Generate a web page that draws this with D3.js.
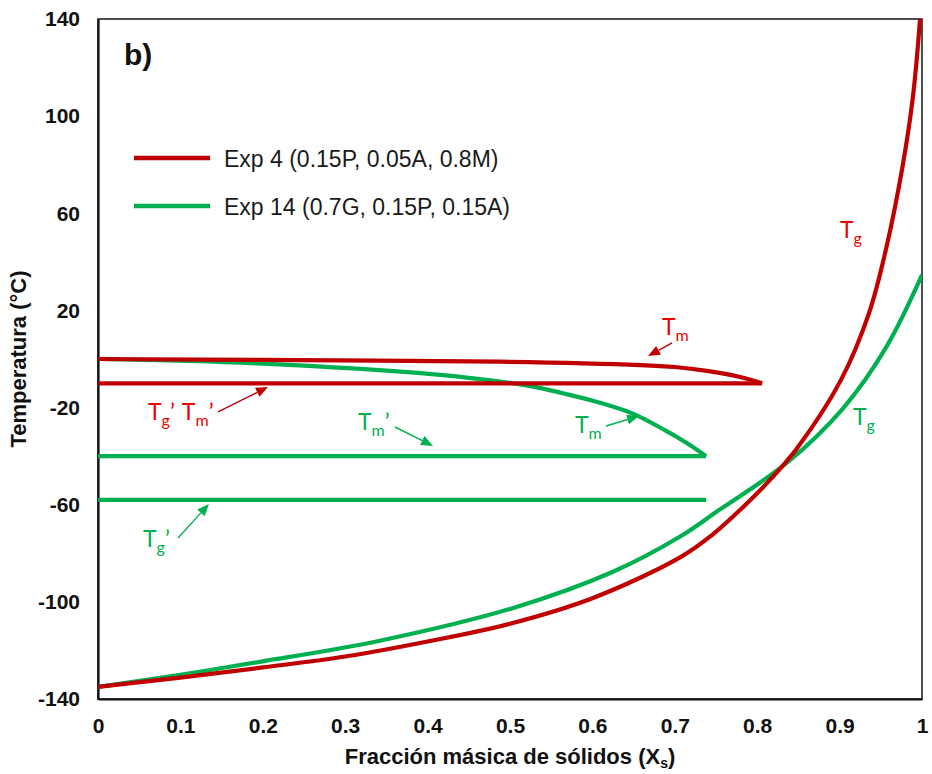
<!DOCTYPE html>
<html>
<head>
<meta charset="utf-8">
<script src="https://cdn.jsdelivr.net/npm/d3@7"></script>
<style>
  body { margin: 0; background: #fff; }
  svg { display: block; }
</style>
</head>
<body>
<div class="chart"></div>
<script>
var width = 932;
var height = 774;

// ------------------------------------------------
// data (x = mass fraction of solids, y = temperature in C)
var exp4_tg_x = [0, 0.1, 0.2, 0.3, 0.4, 0.5, 0.6, 0.7075, 0.7451, 0.7791, 0.8155, 0.8495, 0.9017, 0.9357, 0.9569, 0.9763, 0.9885, 0.9976];
var exp4_tg_y = [-135, -131.2, -127, -122.5, -116.3, -109, -98.5, -81.5, -72.5, -62.2, -49.8, -36.2, -8.6, 18.9, 46.1, 79.1, 106.6, 140];

var exp14_tg_x = [0, 0.1, 0.2, 0.342, 0.504, 0.625, 0.706, 0.7528, 0.8358, 0.9037, 0.957, 1.0];
var exp14_tg_y = [-135, -130, -124.5, -116, -102.5, -87.6, -73.2, -62.4, -42.8, -20.5, 5.1, 34.6];

var exp4_tm_x = [0, 0.2, 0.488, 0.658, 0.7, 0.739, 0.779, 0.806];
var exp4_tm_y = [0, -0.4, -1.1, -2.5, -3.3, -4.9, -7.4, -10];

var exp14_tm_x = [0, 0.193, 0.415, 0.488, 0.528, 0.569, 0.609, 0.649, 0.689, 0.714, 0.738];
var exp14_tm_y = [0, -1.8, -6.5, -9.3, -11.4, -14.5, -18, -22.5, -29.5, -34.5, -40];

// horizontal plateaus: [x start, x end, temperature]
var exp4_tgp_tmp = [0, 0.806, -10];   // Tg' = Tm'
var exp14_tmp = [0, 0.738, -40];      // Tm'
var exp14_tgp = [0, 0.738, -58];      // Tg'

var series_names = ["Exp 4 (0.15P, 0.05A, 0.8M)", "Exp 14 (0.7G, 0.15P, 0.15A)"];
var x_ticks = [0, 0.1, 0.2, 0.3, 0.4, 0.5, 0.6, 0.7, 0.8, 0.9, 1];
var x_tick_labels = ["0", "0.1", "0.2", "0.3", "0.4", "0.5", "0.6", "0.7", "0.8", "0.9", "1"];
var y_ticks = [140, 100, 60, 20, -20, -60, -100, -140];
var y_tick_labels = ["140", "100", "60", "20", "-20", "-60", "-100", "-140"];

var red = "#C00000";
var red_text = "#EE0000";
var green = "#00B050";

var font = "'Liberation Sans', Arial, sans-serif";
var label_font = "Lato, 'Open Sans', sans-serif";

var svg = d3.select(".chart").append("svg")
	.attr("width", width)
	.attr("height", height);

// ------------------------------------------------
// scales
var xScale = d3.scaleLinear()
	.domain([0, 1])
	.range([98, 922]);
var yScale = d3.scaleLinear()
	.domain([-140, 140])
	.range([699, 19]);

svg.append("clipPath").attr("id", "plot_clip")
	.append("rect")
	.attr("x", xScale(0)).attr("y", yScale(140))
	.attr("width", xScale(1) - xScale(0))
	.attr("height", yScale(-140) - yScale(140));

// frame
svg.append("rect")
	.attr("x", xScale(0)).attr("y", yScale(140))
	.attr("width", xScale(1) - xScale(0))
	.attr("height", yScale(-140) - yScale(140))
	.attr("fill", "none")
	.attr("stroke", "#222")
	.attr("stroke-width", 1.6);

// axes (no tick marks, only labels)
var xAxis = d3.axisBottom(xScale)
	.tickValues(x_ticks)
	.tickFormat(function (d, i) { return x_tick_labels[i]; })
	.tickSize(0)
	.tickPadding(19);
var gx = svg.append("g")
	.attr("transform", "translate(0," + yScale(-140) + ")")
	.call(xAxis);

var yAxis = d3.axisLeft(yScale)
	.tickValues(y_ticks)
	.tickFormat(function (d, i) { return y_tick_labels[i]; })
	.tickSize(0)
	.tickPadding(18);
var gy = svg.append("g")
	.attr("transform", "translate(" + xScale(0) + ",0)")
	.call(yAxis);

[gx, gy].forEach(function (g) {
	g.select(".domain").attr("stroke", "#111").attr("stroke-width", 2.2);
	g.selectAll("text")
		.attr("fill", "#111")
		.style("font-family", font)
		.style("font-weight", "bold")
		.style("font-size", "21px");
});

// axis titles
var xt = svg.append("text")
	.attr("x", 510).attr("y", 764)
	.attr("text-anchor", "middle")
	.style("font-family", font).style("font-weight", "bold").style("font-size", "22px")
	.attr("fill", "#111");
xt.append("tspan").text("Fracción másica de sólidos (X");
xt.append("tspan").attr("dy", 4).style("font-size", "14px").text("s");
xt.append("tspan").attr("dy", -4).text(")");

svg.append("text")
	.attr("transform", "translate(26,359) rotate(-90)")
	.attr("text-anchor", "middle")
	.style("font-family", font).style("font-weight", "bold").style("font-size", "22px")
	.attr("fill", "#111")
	.text("Temperatura (°C)");

// panel letter
svg.append("text")
	.attr("x", 124).attr("y", 65)
	.style("font-family", font).style("font-weight", "bold").style("font-size", "30px")
	.attr("fill", "#111")
	.text("b)");

// ------------------------------------------------
// curves
var plot = svg.append("g").attr("clip-path", "url(#plot_clip)");

function zip(xs, ys) {
	return xs.map(function (d, i) { return [d, ys[i]]; });
}
function plateau(p) {
	return [[p[0], p[2]], [p[1], p[2]]];
}

var line = d3.line()
	.x(function (d) { return xScale(d[0]); })
	.y(function (d) { return yScale(d[1]); })
	.curve(d3.curveCatmullRom.alpha(0.5));

var curves = [
	{ pts: zip(exp14_tg_x, exp14_tg_y), color: green },
	{ pts: plateau(exp14_tmp), color: green },
	{ pts: plateau(exp14_tgp), color: green },
	{ pts: zip(exp14_tm_x, exp14_tm_y), color: green },
	{ pts: zip(exp4_tg_x, exp4_tg_y), color: red },
	{ pts: plateau(exp4_tgp_tmp), color: red },
	{ pts: zip(exp4_tm_x, exp4_tm_y), color: red }
];

plot.selectAll("path.curve")
	.data(curves)
	.enter().append("path")
	.attr("class", "curve")
	.attr("d", function (d) { return line(d.pts); })
	.attr("fill", "none")
	.attr("stroke", function (d) { return d.color; })
	.attr("stroke-width", 4.2)
	.attr("stroke-linejoin", "round");

// ------------------------------------------------
// legend
var legend = svg.append("g");
[red, green].forEach(function (c, i) {
	var y = 158 + i * 48;
	legend.append("line")
		.attr("x1", 134).attr("x2", 210)
		.attr("y1", y).attr("y2", y)
		.attr("stroke", c).attr("stroke-width", 4.5);
	legend.append("text")
		.attr("x", 224).attr("y", y + 8.5)
		.style("font-family", font).style("font-size", "23px")
		.attr("fill", "#1a1a1a")
		.text(series_names[i]);
});

// ------------------------------------------------
// annotations: label position and arrow in data units
var annotations = [
	{ sub: "g", prime: false, at: [0.9005, 49.8], color: red_text },
	{ sub: "m", prime: false, at: [0.6845, 9.9], color: red_text, arrow: [[0.6966, 6.6], [0.6675, 1.2]], arrow_color: red },
	{ sub: "g", prime: true, sub2: "m", at: [0.0607, -25.1], color: red_text, arrow: [[0.1456, -21.8], [0.2063, -11.5]], arrow_color: red },
	{ sub: "m", prime: true, at: [0.3155, -29.2], color: green, arrow: [[0.3604, -28], [0.4066, -35.8]], arrow_color: green },
	{ sub: "m", prime: false, at: [0.5789, -30.5], color: green, arrow: [[0.6165, -27.6], [0.6566, -23.5]], arrow_color: green },
	{ sub: "g", prime: false, at: [0.9163, -27.2], color: green },
	{ sub: "g", prime: true, at: [0.0546, -77.4], color: green, arrow: [[0.0971, -73.7], [0.1347, -59.7]], arrow_color: green }
];

var ann = svg.append("g");
annotations.forEach(function (a) {
	var t = ann.append("text")
		.attr("x", xScale(a.at[0]))
		.attr("y", yScale(a.at[1]))
		.attr("fill", a.color)
		.style("font-family", label_font)
		.style("font-size", "23px");
	t.append("tspan").text("T");
	t.append("tspan").attr("dy", 6).style("font-size", "16px").text(a.sub);
	if (a.prime) t.append("tspan").attr("dy", -6).text("’");
	if (a.sub2) {
		t.append("tspan").attr("dx", 7).text("T");
		t.append("tspan").attr("dy", 6).style("font-size", "16px").text(a.sub2);
		t.append("tspan").attr("dy", -6).text("’");
	}
	if (a.arrow) {
		var x1 = xScale(a.arrow[0][0]), y1 = yScale(a.arrow[0][1]);
		var x2 = xScale(a.arrow[1][0]), y2 = yScale(a.arrow[1][1]);
		var ang = Math.atan2(y2 - y1, x2 - x1);
		var len = 12, half = 5;
		var bx = x2 - len * Math.cos(ang), by = y2 - len * Math.sin(ang);
		ann.append("line")
			.attr("x1", x1).attr("y1", y1)
			.attr("x2", bx).attr("y2", by)
			.attr("stroke", a.arrow_color).attr("stroke-width", 1.4);
		ann.append("path")
			.attr("d", "M" + x2 + "," + y2 +
				"L" + (bx + half * Math.sin(ang)) + "," + (by - half * Math.cos(ang)) +
				"L" + (bx - half * Math.sin(ang)) + "," + (by + half * Math.cos(ang)) + "Z")
			.attr("fill", a.arrow_color);
	}
});
</script>
</body>
</html>
